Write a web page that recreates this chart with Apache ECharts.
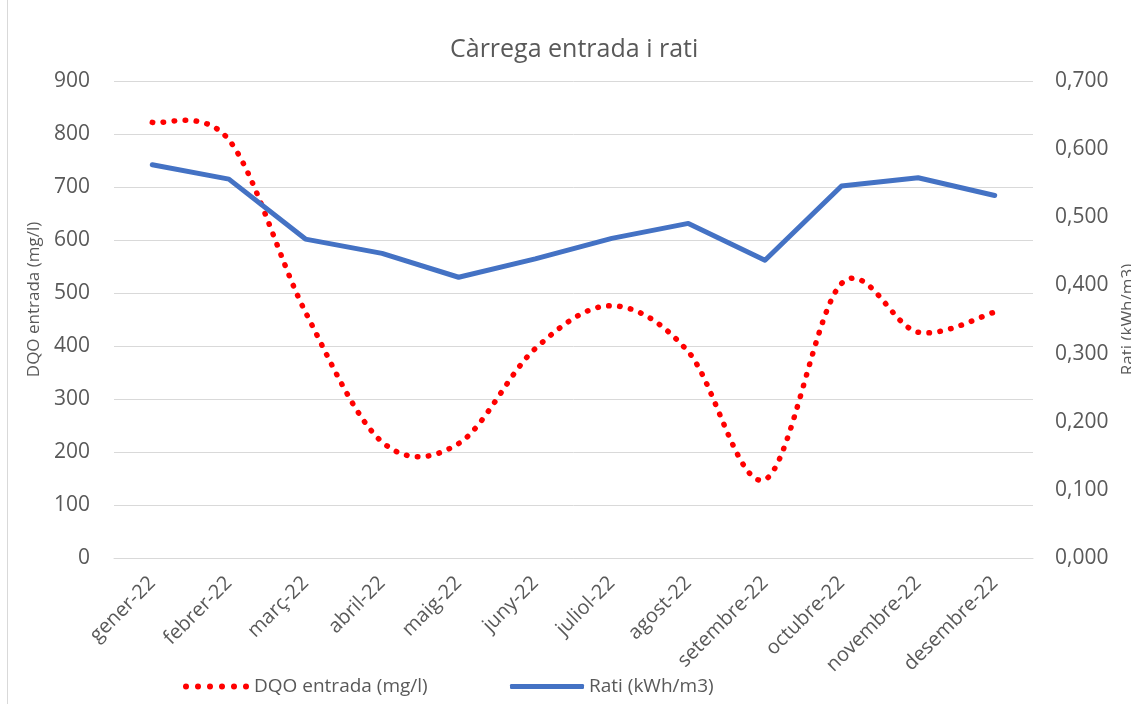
<!DOCTYPE html>
<html>
<head>
<meta charset="utf-8">
<script src="https://cdn.jsdelivr.net/npm/echarts@6/dist/echarts.min.js"></script>
<style>
html,body{margin:0;padding:0;background:#fff;overflow:hidden;width:100%;height:100%;}
#chart{width:100vw;height:100vh;}
</style>
</head>
<body>
<div id="chart"></div>
<script>
const categories = ['gener-22','febrer-22','març-22','abril-22','maig-22','juny-22','juliol-22','agost-22','setembre-22','octubre-22','novembre-22','desembre-22'];
const dqoEntrada = [822, 789, 464, 219, 216, 395, 476, 389, 148, 518, 426, 464];
const rati = [0.577, 0.556, 0.468, 0.447, 0.412, 0.439, 0.469, 0.491, 0.437, 0.546, 0.558, 0.532];
const leftTicks = {min: 0, max: 900, interval: 100};
const rightTicks = {min: 0, max: 0.7, interval: 0.1};

const FONT = "'Open Sans', 'Noto Sans', sans-serif";
const TXT = '#595959';
const RED = '#FF0000';
const BLUE = '#4472C4';

// Excel-style smoothed curve: cubic Bezier through the points, control points at 1/6 of neighbour differences
function smoothPath(pts) {
  const n = pts.length;
  let d = 'M' + pts[0][0] + ',' + pts[0][1];
  for (let i = 0; i < n - 1; i++) {
    const p0 = pts[Math.max(i - 1, 0)], p1 = pts[i], p2 = pts[i + 1], p3 = pts[Math.min(i + 2, n - 1)];
    const c1x = p1[0] + (p2[0] - p0[0]) / 6, c1y = p1[1] + (p2[1] - p0[1]) / 6;
    const c2x = p2[0] - (p3[0] - p1[0]) / 6, c2y = p2[1] - (p3[1] - p1[1]) / 6;
    d += ' C' + c1x + ',' + c1y + ' ' + c2x + ',' + c2y + ' ' + p2[0] + ',' + p2[1];
  }
  return d;
}

// dotted legend icon (6 dots)
let dotIcon = 'path://';
for (let k = 0; k < 6; k++) {
  const cx = 3 + k * 12;
  dotIcon += 'M' + (cx - 3) + ',3 a3,3 0 1,0 6,0 a3,3 0 1,0 -6,0 ';
}

const chart = echarts.init(document.getElementById('chart'));
chart.setOption({
  animation: false,
  backgroundColor: '#fff',
  textStyle: {fontFamily: FONT},
  title: {
    text: 'Càrrega entrada i rati',
    left: 445, top: 32,
    textStyle: {fontFamily: FONT, fontSize: 25, fontWeight: 'normal', color: TXT}
  },
  graphic: [{
    type: 'line', shape: {x1: 7.5, y1: 0, x2: 7.5, y2: 704},
    style: {stroke: '#D9D9D9', lineWidth: 1}
  }],
  legend: [{
    left: 178, top: 672,
    itemWidth: 66, itemHeight: 6,
    textStyle: {fontFamily: FONT, fontSize: 19, color: TXT},
    data: [{name: 'DQO entrada (mg/l)', icon: dotIcon}]
  }, {
    left: 505, top: 672,
    itemWidth: 74, itemHeight: 5,
    textStyle: {fontFamily: FONT, fontSize: 19, color: TXT},
    data: [{name: 'Rati (kWh/m3)', icon: 'roundRect'}]
  }],
  grid: {left: 114, right: 98, top: 81, bottom: 146, containLabel: false, outerBoundsMode: 'none'},
  xAxis: {
    type: 'category', data: categories, boundaryGap: true,
    axisLine: {lineStyle: {color: '#D9D9D9', width: 1}},
    axisTick: {show: false},
    axisLabel: {rotate: 45, color: TXT, fontSize: 20, margin: 22, interval: 0, fontFamily: FONT}
  },
  yAxis: [{
    type: 'value', min: leftTicks.min, max: leftTicks.max, interval: leftTicks.interval,
    name: 'DQO entrada (mg/l)', nameLocation: 'middle', nameGap: 70, nameRotate: 90,
    nameTextStyle: {color: TXT, fontSize: 17, fontFamily: FONT, padding: [0, 0, 0, 40]},
    axisLine: {show: false}, axisTick: {show: false},
    axisLabel: {color: TXT, fontSize: 21, margin: 24, fontFamily: FONT},
    splitLine: {lineStyle: {color: '#D9D9D9', width: 1}}
  }, {
    type: 'value', position: 'right', min: rightTicks.min, max: rightTicks.max, interval: rightTicks.interval,
    name: 'Rati (kWh/m3)', nameLocation: 'middle', nameGap: 84, nameRotate: 90,
    nameTextStyle: {color: TXT, fontSize: 17, fontFamily: FONT},
    axisLine: {show: false}, axisTick: {show: false},
    axisLabel: {color: TXT, fontSize: 21, margin: 22, fontFamily: FONT,
      formatter: v => v.toFixed(3).replace('.', ',')},
    splitLine: {show: false}
  }],
  series: [{
    name: 'DQO entrada (mg/l)', type: 'custom', yAxisIndex: 0,
    data: dqoEntrada.map((v, i) => [i, v]),
    encode: {x: 0, y: 1},
    itemStyle: {color: RED},
    renderItem: function (params, api) {
      if (params.dataIndex !== 0) return null;
      const pts = dqoEntrada.map((v, i) => api.coord([i, v]));
      return {
        type: 'path',
        shape: {pathData: smoothPath(pts)},
        style: {fill: 'none', stroke: RED, lineWidth: 5.5, lineDash: [0.5, 10.5], lineCap: 'round'}
      };
    },
    z: 2
  }, {
    name: 'Rati (kWh/m3)', type: 'line', yAxisIndex: 1, data: rati,
    smooth: false, symbol: 'none', color: BLUE,
    lineStyle: {color: BLUE, width: 5, cap: 'round', join: 'round'},
    z: 3
  }]
});
</script>
</body>
</html>
